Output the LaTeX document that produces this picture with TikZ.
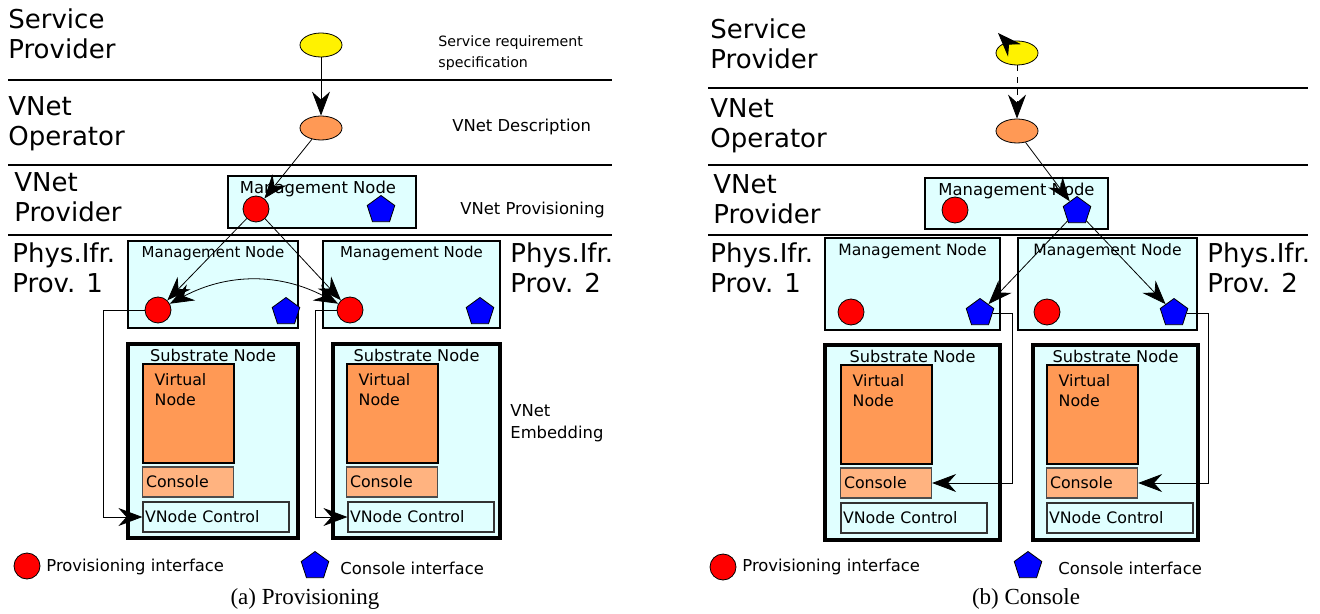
\documentclass[tikz,border=0pt]{standalone}
\usepackage{fontspec}
\setmainfont{DejaVu Sans}
\newfontfamily\capfont{Liberation Serif}
\usetikzlibrary{arrows.meta,shapes.geometric,positioning}

\definecolor{boxcyan}{HTML}{E0FFFF}
\definecolor{vnorange}{HTML}{FF9955}
\definecolor{cnorange}{HTML}{FFB380}

\begin{document}
\begin{tikzpicture}[x=0.5pt,y=-0.5pt,>={Stealth[length=12pt,width=9pt,inset=4pt]},
        every node/.style={inner sep=0pt},
        big/.style={font=\fontsize{13}{15}\selectfont,align=left,anchor=north west},
        mid/.style={font=\fontsize{8.2}{11}\selectfont,align=left,anchor=west},
        boxtext/.style={font=\fontsize{7.5}{9}\selectfont},
        toptext/.style={font=\fontsize{8.2}{10}\selectfont},
        vntext/.style={font=\fontsize{7.9}{10}\selectfont,align=left},
        capt/.style={font=\capfont\fontsize{11.5}{13}\selectfont},
        sep/.style={line width=0.7pt},
        yellowell/.style={ellipse,draw,fill=yellow,minimum width=21pt,minimum height=12pt},
        orangeell/.style={ellipse,draw,fill=vnorange,minimum width=21pt,minimum height=12pt},
        ifprov/.style={circle,draw,fill=red,minimum size=13pt},
        ifcons/.style={regular polygon,regular polygon sides=5,draw,fill=blue,minimum size=14.5pt},
        mgbox/.style={draw,fill=boxcyan,line width=0.8pt},
        subbox/.style={draw,fill=boxcyan,line width=1.6pt},
        vnbox/.style={draw,fill=vnorange,line width=0.7pt,minimum width=45.5pt,minimum height=49.5pt},
        cnbox/.style={draw=black!70,fill=cnorange,line width=0.6pt,minimum width=45.5pt,minimum height=15pt,
          text width=42pt,align=left,font=\fontsize{7.9}{10}\selectfont},
        ctlbox/.style={draw=black!80,fill=boxcyan,line width=0.6pt,minimum width=73pt,minimum height=15pt,
          text width=71pt,align=left,font=\fontsize{7.9}{10}\selectfont}]

  \useasboundingbox (0,0) rectangle (1320,614);

  % (a) provisioning
  \draw[sep] (8,80) -- (612,80);
  \draw[sep] (8,165) -- (612,165);
  \draw[sep] (8,235) -- (612,235);

  \node[big] (spA) at (8,8) {Service\\Provider};
  \node[big] (opA) at (8,96) {VNet\\Operator};
  \node[big] (vpA) at (14,172) {VNet\\Provider};
  \node[big] (p1A) at (12,242) {Phys.Ifr.\\Prov. 1};
  \node[big] (p2A) at (510,242) {Phys.Ifr.\\Prov. 2};

  \node[mid,anchor=north west,font=\fontsize{7.1}{10.5}\selectfont] (reqA) at (438,35) {Service requirement\\specification};
  \node[mid] (descA) at (452,127) {VNet Description};
  \node[mid] (provA) at (460,210) {VNet Provisioning};
  \node[mid,anchor=north west] (embA) at (510,404) {VNet\\Embedding};

  \node[yellowell] (yA) at (321,45) {};
  \node[orangeell] (oA) at (321,128) {};

  \node[mgbox,minimum width=94pt,minimum height=26pt] (mA) at (322,202) {};
  \node[toptext,below=2.5pt of mA.north,xshift=-2pt] {Management Node};
  \node[ifprov] (rA) at (256,209) {};
  \node[ifcons] (bA) at (381,210) {};

  \node[mgbox,minimum width=85pt,minimum height=43.5pt] (m1A) at (213,284.5) {};
  \node[boxtext,below=3pt of m1A.north] {Management Node};
  \node[ifprov] (r1A) at (158,310) {};
  \node[ifcons] (b1A) at (286,312) {};

  \node[mgbox,minimum width=88.5pt,minimum height=43.5pt] (m2A) at (411.5,284.5) {};
  \node[boxtext,below=3pt of m2A.north] {Management Node};
  \node[ifprov] (r2A) at (350,310) {};
  \node[ifcons] (b2A) at (480,312) {};

  \node[subbox,minimum width=85pt,minimum height=97pt] (s1A) at (213,441) {};
  \node[boxtext,below=3pt of s1A.north,font=\fontsize{8.1}{10}\selectfont] {Substrate Node};
  \node[vnbox] (v1A) at (188.5,413.5) {};
  \node[vntext,anchor=north west] at ([xshift=6pt,yshift=-5pt]v1A.north west) {Virtual\\Node};
  \node[cnbox] (c1A) at (188,482) {Console};
  \node[ctlbox] (k1A) at (216,517) {VNode Control};

  \node[subbox,minimum width=83.5pt,minimum height=97pt] (s2A) at (416.5,441) {};
  \node[boxtext,below=3pt of s2A.north,font=\fontsize{8.1}{10}\selectfont] {Substrate Node};
  \node[vnbox] (v2A) at (392.5,413.5) {};
  \node[vntext,anchor=north west] at ([xshift=6pt,yshift=-5pt]v2A.north west) {Virtual\\Node};
  \node[cnbox] (c2A) at (392,482) {Console};
  \node[ctlbox] (k2A) at (421,517) {VNode Control};

  \draw[->] (yA) -- (oA);
  \draw[->] (oA) -- (rA);
  \draw[->] (rA) -- (r1A);
  \draw[->] (rA) -- (r2A);
  \draw[<->] (r1A) to[bend left=28] (r2A);
  \draw[->] (r1A.west) -- ++(-41,0) |- (k1A.west);
  \draw[->] (r2A.west) -- ++(-21,0) |- (k2A.west);

  \node[ifprov] (lrA) at (27,566) {};
  \node[mid] at (46,567) {Provisioning interface};
  \node[ifcons] (lbA) at (315,566) {};
  \node[mid] at (340,568) {Console interface};
  \node[capt] (capA) at (305,599) {(a) Provisioning};

  % (b) console
  \begin{scope}[xshift=349pt]
  \draw[sep] (10,88) -- (610,88);
  \draw[sep] (10,165) -- (610,165);
  \draw[sep] (10,235) -- (610,235);

  \node[big] (spB) at (12,18) {Service\\Provider};
  \node[big] (opB) at (12,98) {VNet\\Operator};
  \node[big] (vpB) at (15,174) {VNet\\Provider};
  \node[big] (p1B) at (12,242) {Phys.Ifr.\\Prov. 1};
  \node[big] (p2B) at (509,242) {Phys.Ifr.\\Prov. 2};

  \node[yellowell] (yB) at (319,53) {};
  \node[orangeell] (oB) at (319,131) {};
  \coordinate (tipB) at (300,33);

  \node[mgbox,minimum width=91.5pt,minimum height=25.5pt] (mB) at (318.5,203.5) {};
  \node[toptext,below=2.5pt of mB.north] {Management Node};
  \node[ifprov] (rB) at (257,210) {};
  \node[ifcons] (bB) at (379,211) {};

  \node[mgbox,minimum width=87.5pt,minimum height=46pt] (m1B) at (214.5,284) {};
  \node[boxtext,below=3pt of m1B.north,font=\fontsize{7.8}{9}\selectfont] {Management Node};
  \node[ifprov] (r1B) at (153,312) {};
  \node[ifcons] (b1B) at (282,313) {};

  \node[mgbox,minimum width=89.5pt,minimum height=46pt] (m2B) at (409.5,284) {};
  \node[boxtext,below=3pt of m2B.north,font=\fontsize{7.8}{9}\selectfont] {Management Node};
  \node[ifprov] (r2B) at (349,312) {};
  \node[ifcons] (b2B) at (476,313) {};

  \node[subbox,minimum width=87.5pt,minimum height=97.5pt] (s1B) at (214.5,442.5) {};
  \node[boxtext,below=3pt of s1B.north,font=\fontsize{8.1}{10}\selectfont] {Substrate Node};
  \node[vnbox] (v1B) at (188.5,414.5) {};
  \node[vntext,anchor=north west] at ([xshift=6pt,yshift=-5pt]v1B.north west) {Virtual\\Node};
  \node[cnbox] (c1B) at (188,483) {Console};
  \node[ctlbox] (k1B) at (216,518) {VNode Control};

  \node[subbox,minimum width=82.5pt,minimum height=97.5pt] (s2B) at (417.5,442.5) {};
  \node[boxtext,below=3pt of s2B.north,font=\fontsize{8.1}{10}\selectfont] {Substrate Node};
  \node[vnbox] (v2B) at (394.5,414.5) {};
  \node[vntext,anchor=north west] at ([xshift=6pt,yshift=-5pt]v2B.north west) {Virtual\\Node};
  \node[cnbox] (c2B) at (394,483) {Console};
  \node[ctlbox] (k2B) at (422,518) {VNode Control};

  \draw[->] (yB) -- (tipB);
  \draw[->,dashed] (yB) -- (oB);
  \draw[->] (oB) -- (bB);
  \draw[->] (bB) -- (b1B);
  \draw[->] (bB) -- (b2B);
  \draw[->] (b1B.east) -- ++(20,0) |- (c1B.east);
  \draw[->] (b2B.east) -- ++(22,0) |- (c2B.east);

  \node[ifprov] (lrB) at (25,567) {};
  \node[mid] at (44,567) {Provisioning interface};
  \node[ifcons] (lbB) at (330,566) {};
  \node[mid] at (360,568) {Console interface};
  \node[capt] (capB) at (328,599) {(b) Console};
  \end{scope}

\end{tikzpicture}
\end{document}
